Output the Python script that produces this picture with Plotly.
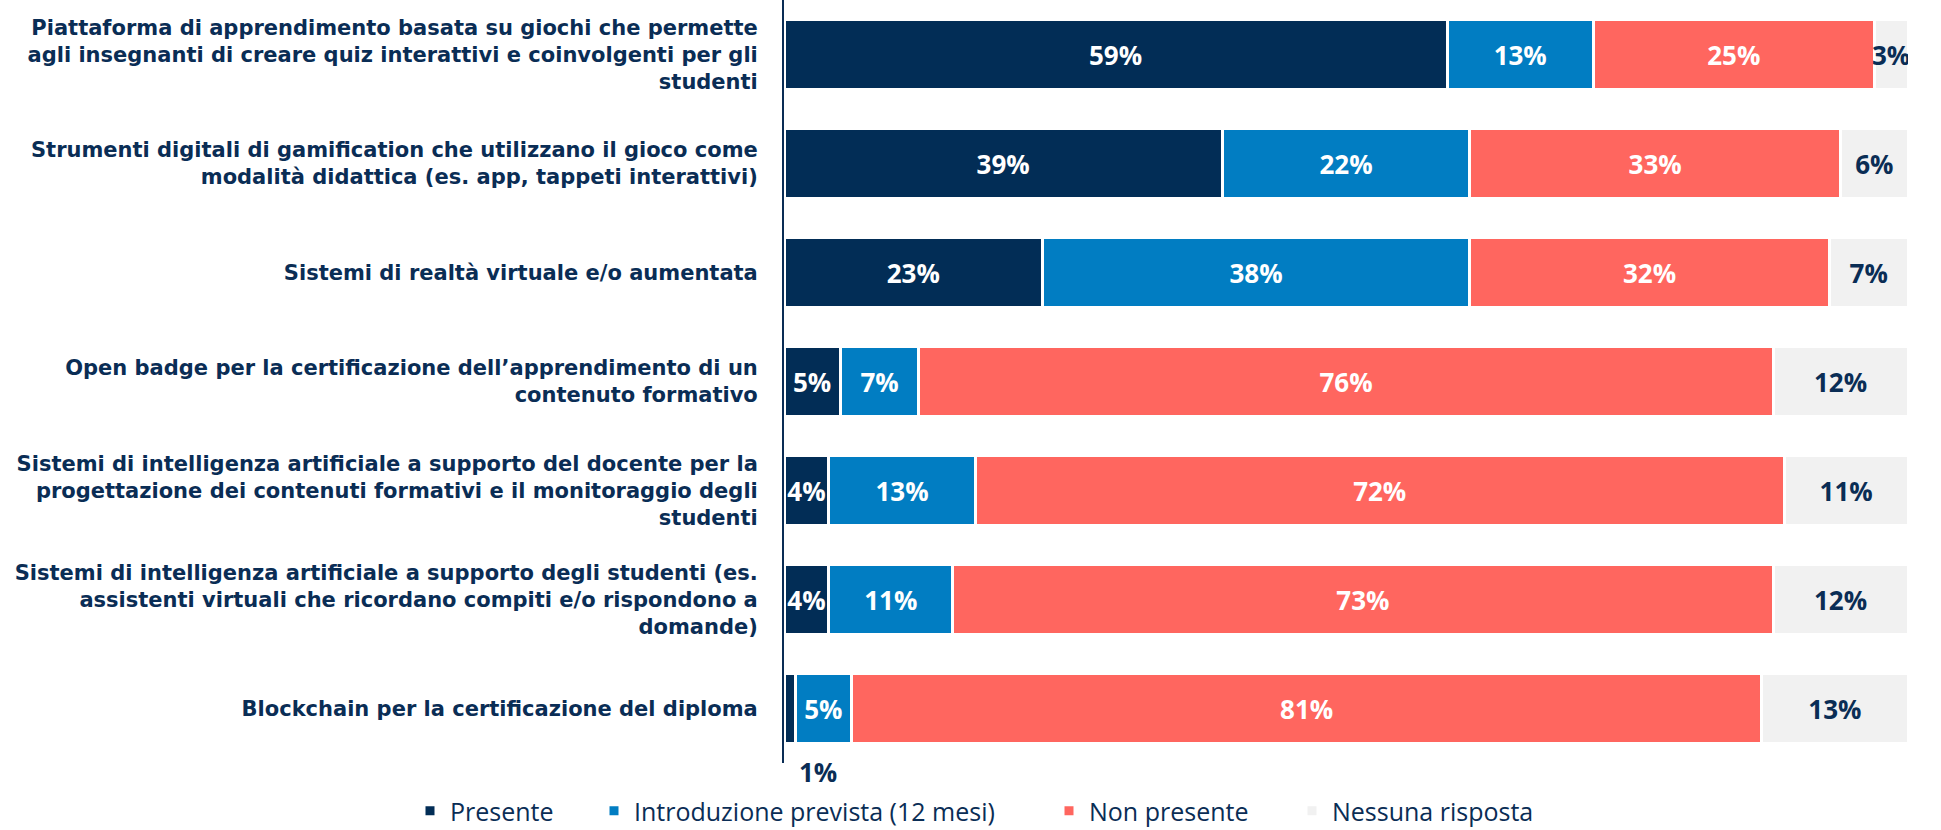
import plotly.graph_objects as go

categories = [
    "Piattaforma di apprendimento basata su giochi che permette<br>agli insegnanti di creare quiz interattivi e coinvolgenti per gli<br>studenti",
    "Strumenti digitali di gamification che utilizzano il gioco come<br>modalità didattica (es. app, tappeti interattivi)",
    "Sistemi di realtà virtuale e/o aumentata",
    "Open badge per la certificazione dell’apprendimento di un<br>contenuto formativo",
    "Sistemi di intelligenza artificiale a supporto del docente per la<br>progettazione dei contenuti formativi e il monitoraggio degli<br>studenti",
    "Sistemi di intelligenza artificiale a supporto degli studenti (es.<br>assistenti virtuali che ricordano compiti e/o rispondono a<br>domande)",
    "Blockchain per la certificazione del diploma",
]

series_names = ["Presente", "Introduzione prevista (12 mesi)", "Non presente", "Nessuna risposta"]
presente = [59, 39, 23, 5, 4, 4, 1]
introduzione = [13, 22, 38, 7, 13, 11, 5]
non_presente = [25, 33, 32, 76, 72, 73, 81]
nessuna = [3, 6, 7, 12, 11, 12, 13]

colors = ["#022D56", "#017DC2", "#FF665F", "#F1F1F1"]
text_colors = ["#FFFFFF", "#FFFFFF", "#FFFFFF", "#0A2D55"]
NAVY = "#0A2D55"
FONT = "Open Sans"
LABEL_FONT = "DejaVu Sans"

# legend square left edges (px, container)
legend_px = [428, 612, 1067, 1310]

fig = go.Figure()
all_series = [presente, introduzione, non_presente, nessuna]
outside_notes = []
for i, (name, vals) in enumerate(zip(series_names, all_series)):
    texts = []
    for j, v in enumerate(vals):
        if v < 2:
            texts.append("")
            outside_notes.append((j, v))
        else:
            texts.append(f"{v}%")
    fig.add_trace(go.Bar(
        y=categories, x=vals, orientation="h", name=name,
        marker=dict(color=colors[i], line=dict(color="#FFFFFF", width=3)),
        text=texts, textposition="inside", insidetextanchor="middle",
        constraintext="none", textangle=0,
        insidetextfont=dict(family=FONT, size=26, color=text_colors[i], weight="bold"),
        hoverinfo="skip", showlegend=True,
        legend="legend" if i == 0 else f"legend{i+1}",
    ))

for j, v in outside_notes:
    fig.add_annotation(
        x=v, y=categories[j], xref="x", yref="y",
        text=f"{v}%", showarrow=False, xanchor="left", yanchor="middle",
        xshift=2, yshift=-63,
        font=dict(family=FONT, size=26, color=NAVY, weight="bold"),
    )

layout_legends = {}
for i, px in enumerate(legend_px):
    key = "legend" if i == 0 else f"legend{i+1}"
    layout_legends[key] = dict(
        orientation="h", xref="container", yref="container",
        x=(px - 18) / 1941, xanchor="left", y=1 - 811 / 830, yanchor="middle",
        font=dict(family=FONT, size=25, color=NAVY),
        bgcolor="rgba(0,0,0,0)", borderwidth=0,
    )

fig.update_layout(
    width=1941, height=830, showlegend=True,
    barmode="stack", bargap=0.36,
    plot_bgcolor="white", paper_bgcolor="white",
    margin=dict(l=784, r=33, t=0, b=67, pad=0),
    font=dict(family=FONT, color=NAVY),
    xaxis=dict(range=[0, 100], visible=False, fixedrange=True),
    yaxis=dict(
        autorange="reversed", showline=True, linecolor=NAVY, linewidth=2,
        ticks="", showgrid=False, zeroline=False,
        tickfont=dict(family=LABEL_FONT, size=21, color=NAVY, weight="bold"),
        ticklabelstandoff=20,
    ),
    **layout_legends,
)

fig.write_html("out.html")
